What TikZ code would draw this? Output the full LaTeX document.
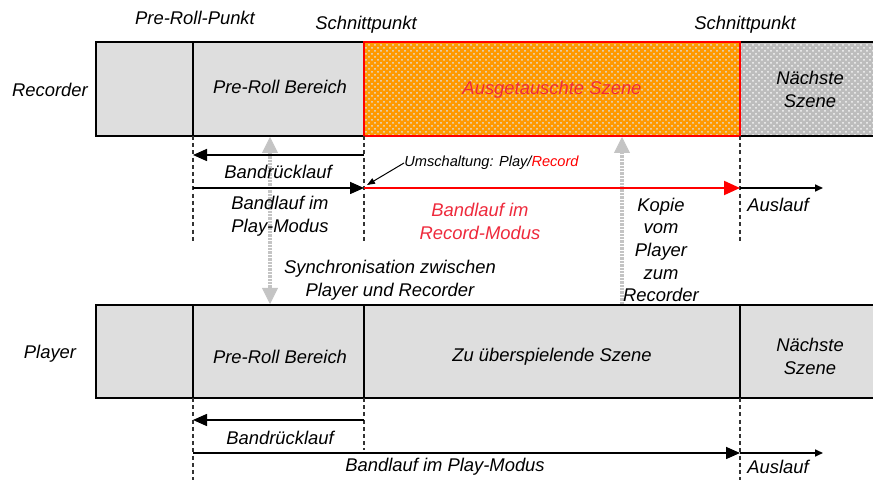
\documentclass[tikz,border=0pt]{standalone}
\usepackage{fontspec}
\setmainfont{Liberation Sans}
\usetikzlibrary{arrows.meta,patterns}
\definecolor{tapegray}{HTML}{DEDEDE}
\definecolor{scenefill}{HTML}{FF9900}
\definecolor{nextfill}{HTML}{BDBDBD}
\definecolor{recred}{HTML}{FF0000}
\definecolor{textred}{HTML}{EE2A3C}
\definecolor{syncgray}{HTML}{C4C4C4}
\tikzset{
  txt/.style={font=\fontsize{9.2}{11.5}\selectfont\itshape, inner sep=0pt, align=center},
  small/.style={font=\fontsize{7.3}{9}\selectfont\itshape, inner sep=0pt},
  bar/.style={line width=1pt, draw=black},
  divider/.style={line width=0.8pt, draw=black},
  guide/.style={line width=0.6pt, draw=black!80, dash pattern=on 2pt off 1.6pt},
  tapearrow/.style={line width=0.8pt, -{Triangle[length=7pt,width=6pt]}},
  shortarrow/.style={line width=0.8pt, -{Triangle[length=4pt,width=3.5pt]}},
  synctip/.tip={Triangle[length=8pt,width=8pt,fill=syncgray,line width=0.4pt]},
  syncarrow/.style={line width=2pt, draw=syncgray, dash pattern=on 1.2pt off 0.5pt,
    arrows={-synctip}},
}
\begin{document}
\begin{tikzpicture}[x=0.5pt,y=-0.5pt]
\useasboundingbox (0,0) rectangle (873,480);

% ---------- recorder tape ----------
\fill[tapegray] (96,42) rectangle (364,136);
\fill[scenefill] (364,42) rectangle (740,136);
\fill[pattern=crosshatch dots, pattern color=tapegray] (364,42) rectangle (740,136);
\fill[nextfill] (740,42) rectangle (880,136);
\fill[pattern=crosshatch dots, pattern color=white!92!gray] (740,42) rectangle (880,136);
\draw[bar] (880,42) -- (96,42) -- (96,136) -- (880,136);
\draw[divider] (193,42) -- (193,136);
\draw[divider] (740,42) -- (740,136);
\draw[line width=1pt, draw=recred] (364,42) rectangle (740,136);

% ---------- player tape ----------
\fill[tapegray] (96,305) rectangle (880,398);
\draw[bar] (880,305) -- (96,305) -- (96,398) -- (880,398);
\draw[divider] (193,305) -- (193,398);
\draw[divider] (364,305) -- (364,398);
\draw[divider] (740,305) -- (740,398);

% ---------- sync and copy arrows (behind the labels) ----------
\coordinate (syT) at (270,137); \coordinate (syB) at (270,304);
\draw[syncarrow, arrows={synctip-synctip}] (syT) -- (syB);
\coordinate (kpB) at (622,304); \coordinate (kpT) at (622,137);
\draw[syncarrow] (kpB) -- (kpT);

% ---------- labels ----------
\node[txt] (prp) at (195,18) {Pre-Roll-Punkt};
\node[txt] (sp1) at (366,25) {Schnittpunkt};
\node[txt] (sp2) at (745,25) {Schnittpunkt};
\node[txt] (rec) at (50,90) {Recorder};
\node[txt] (rpre) at (280,87) {Pre-Roll Bereich};
\node[txt, text=textred] (rscene) at (552,90) {Ausgetauschte Szene};
\node[txt] (rnext) at (810,89) {Nächste\\Szene};

\node[txt] (ply) at (50,354) {Player};
\node[txt] (ppre) at (280,357) {Pre-Roll Bereich};
\node[txt] (pscene) at (552,357) {Zu überspielende Szene};
\node[txt] (pnext) at (810,356) {Nächste\\Szene};

\node[txt] (syl) at (390,280) {Synchronisation zwischen\\Player und Recorder};
\node[txt, font=\fontsize{9.2}{11.3}\selectfont\itshape] (kpl) at (661,250) {Kopie\\vom\\Player\\zum\\Recorder};

% ---------- guide lines (recorder) ----------
\coordinate (rg1t) at (193,136); \coordinate (rg1b) at (193,243);
\coordinate (rg2t) at (364,136); \coordinate (rg2b) at (364,243);
\coordinate (rg3t) at (740,136); \coordinate (rg3b) at (740,243);
\draw[guide] (rg1t) -- (rg1b);
\draw[guide] (rg2t) -- (rg2b);
\draw[guide] (rg3t) -- (rg3b);

% ---------- tape motion (recorder) ----------
\coordinate (rrwA) at (364,155); \coordinate (rrwB) at (193,155);
\draw[tapearrow] (rrwA) -- (rrwB);
\node[txt] (rrwl) at (278,172) {Bandrücklauf};

\coordinate (rplA) at (193,188); \coordinate (rplB) at (364,188);
\draw[tapearrow] (rplA) -- (rplB);
\node[txt] (rpll) at (280,216) {Bandlauf im\\Play-Modus};

\coordinate (rrcB) at (740,188);
\draw[draw=recred, line width=1pt, -{Triangle[length=8pt,width=7pt,fill=recred]}] (rplB) -- (rrcB);
\node[txt, text=textred] (rrcl) at (480,221) {Bandlauf im\\Record-Modus};

\coordinate (rauB) at (823,188);
\draw[shortarrow] (rrcB) -- (rauB);
\node[txt] (raul) at (778,205) {Auslauf};

\node[small, anchor=west] (umsch) at (404,163) {Umschaltung: Play/\textcolor{recred}{Record}};
\coordinate (umtip) at (367,185);
\draw[line width=0.5pt, -{Triangle[length=4pt,width=3pt]}] (umsch.west) -- (umtip);

% ---------- guide lines (player) ----------
\coordinate (pg1t) at (193,398); \coordinate (pg1b) at (193,480);
\coordinate (pg2t) at (364,398); \coordinate (pg2b) at (364,450);
\coordinate (pg3t) at (740,398); \coordinate (pg3b) at (740,480);
\draw[guide] (pg1t) -- (pg1b);
\draw[guide] (pg2t) -- (pg2b);
\draw[guide] (pg3t) -- (pg3b);

% ---------- tape motion (player) ----------
\coordinate (prwA) at (364,420); \coordinate (prwB) at (193,420);
\draw[tapearrow] (prwA) -- (prwB);
\node[txt] (prwl) at (280,438) {Bandrücklauf};

\coordinate (pplA) at (193,453); \coordinate (pplB) at (740,453);
\draw[tapearrow] (pplA) -- (pplB);
\node[txt] (ppll) at (445,467) {Bandlauf im Play-Modus};

\coordinate (pauB) at (823,453);
\draw[shortarrow] (pplB) -- (pauB);
\node[txt] (paul) at (778,467) {Auslauf};
\end{tikzpicture}
\end{document}
